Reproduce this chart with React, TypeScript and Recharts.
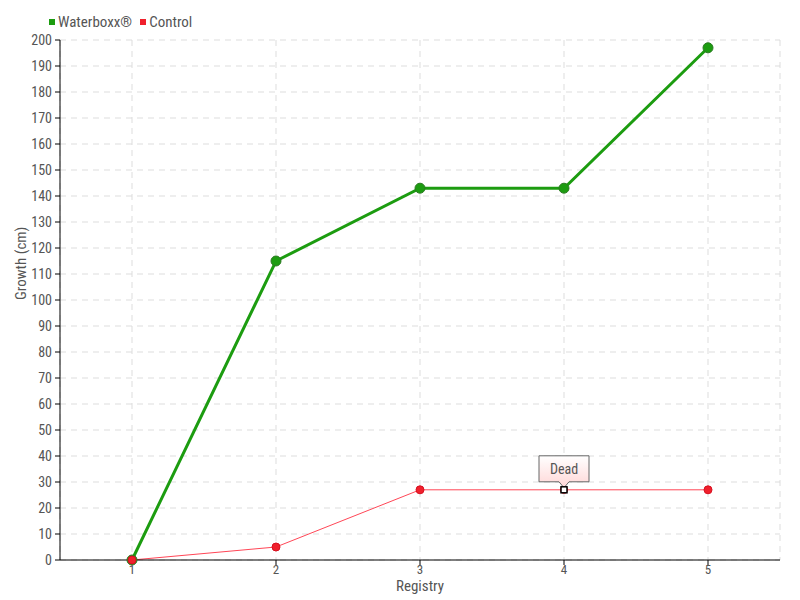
import React from 'react';
import { LineChart, Line, XAxis, YAxis, CartesianGrid, Label } from 'recharts';

const registry = ['1', '2', '3', '4', '5'];
const waterboxx = [0, 115, 143, 143, 197];
const control = [0, 5, 27, 27, 27];
const yTicks = [0, 10, 20, 30, 40, 50, 60, 70, 80, 90, 100, 110, 120, 130, 140, 150, 160, 170, 180, 190, 200];
const deadIndex = 3;
const deadNote = 'Dead';

const data = registry.map((r, i) => ({ registry: r, waterboxx: waterboxx[i], control: control[i] }));

const FONT = '"Liberation Sans Narrow", "Roboto Condensed", Roboto, sans-serif';
const GREEN = '#1c9c10';
const RED = '#f0202c';

const ControlDot = (props: any) => {
  const { cx, cy, index } = props;
  if (index === deadIndex) {
    return (
      <g key={`cd-${index}`}>
        <defs>
          <linearGradient id="deadBox" x1="0" y1="0" x2="0" y2="1">
            <stop offset="0%" stopColor="#ffffff" />
            <stop offset="100%" stopColor="#ffd6d6" />
          </linearGradient>
        </defs>
        <circle cx={cx} cy={cy} r={4} fill={RED} />
        <path
          d={`M${cx - 25},${cy - 34} H${cx + 25} V${cy - 8} H${cx + 5} L${cx},${cy - 2} L${cx - 5},${cy - 8} H${cx - 25} Z`}
          fill="url(#deadBox)"
          stroke="#666"
          strokeWidth={1}
        />
        <text x={cx} y={cy - 16} textAnchor="middle" fontSize={14} fill="#555" fontFamily={FONT}>
          {deadNote}
        </text>
        <rect x={cx - 3} y={cy - 3} width={6} height={6} fill="#fff" stroke="#000" strokeWidth={1.5} />
      </g>
    );
  }
  return <circle key={`cd-${index}`} cx={cx} cy={cy} r={4} fill={RED} stroke="#d81020" strokeWidth={1} />;
};

const App: React.FC = () => {
  return (
    <div style={{ position: 'absolute', left: 0, top: 0, width: 800, height: 600, background: '#fff', fontFamily: FONT }}>
      <div style={{ position: 'absolute', left: 49, top: 13, display: 'flex', alignItems: 'center', fontSize: 15, color: '#555', zIndex: 2 }}>
        <span style={{ width: 6, height: 6, background: GREEN, display: 'inline-block', marginRight: 3 }} />
        <span>Waterboxx®</span>
        <span style={{ width: 6, height: 6, background: RED, display: 'inline-block', marginLeft: 8, marginRight: 3 }} />
        <span>Control</span>
      </div>
      <LineChart width={800} height={600} data={data} margin={{ top: 40, right: 20, bottom: 0, left: 0 }}>
        <CartesianGrid stroke="#dddddd" strokeDasharray="6 5" />
        <XAxis
          dataKey="registry"
          type="category"
          padding={{ left: 72, right: 72 }}
          height={40}
          axisLine={{ stroke: '#000' }}
          tickLine={{ stroke: '#000' }}
          tickSize={5}
          tickMargin={0}
          tick={{ fill: '#555', fontSize: 13, fontFamily: FONT }}
          interval={0}
        >
          <Label value="Registry" position="insideBottom" offset={9} fill="#555" fontSize={15} fontFamily={FONT} />
        </XAxis>
        <YAxis
          domain={[0, 200]}
          ticks={yTicks}
          width={60}
          axisLine={{ stroke: '#000' }}
          tickLine={{ stroke: '#000' }}
          tickSize={5}
          tickMargin={3}
          interval={0}
          tick={{ fill: '#555', fontSize: 14, fontFamily: FONT }}
        >
          <Label value="Growth (cm)" angle={-90} position="insideLeft" offset={21} fill="#555" fontSize={15} fontFamily={FONT} />
        </YAxis>
        <Line
          dataKey="waterboxx"
          stroke={GREEN}
          strokeWidth={3}
          dot={{ r: 5, fill: GREEN, stroke: '#2b7a22', strokeWidth: 1 }}
          activeDot={false}
          isAnimationActive={false}
        />
        <Line
          dataKey="control"
          stroke="#ff4656"
          strokeWidth={1}
          dot={<ControlDot />}
          activeDot={false}
          isAnimationActive={false}
        />
      </LineChart>
    </div>
  );
};

export default App;
